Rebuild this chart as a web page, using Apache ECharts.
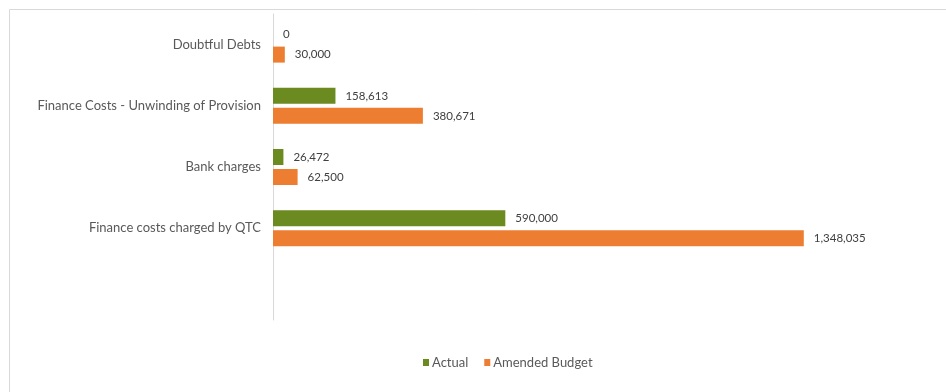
<!DOCTYPE html>
<html>
<head>
<meta charset="utf-8">
<script src="https://cdn.jsdelivr.net/npm/echarts@6/dist/echarts.min.js"></script>
<style>
  html, body { margin: 0; padding: 0; background: #ffffff; }
  #chart { width: 946px; height: 392px; }
</style>
</head>
<body>
<div id="chart"></div>
<script>
// Finance cost lines, top to bottom (last slot left blank)
const categories = [
  'Doubtful Debts',
  'Finance Costs - Unwinding of Provision',
  'Bank charges',
  'Finance costs charged by QTC',
  ''
];
const actual = [0, 158613, 26472, 590000, null];
const amendedBudget = [30000, 380671, 62500, 1348035, null];
const seriesNames = ['Actual', 'Amended Budget'];

const GREEN = '#6b8a1f';
const ORANGE = '#ed7d31';
const FONT = 'Lato, "Open Sans", sans-serif';

const fmt = v => Number(v).toLocaleString('en-US');

const chart = echarts.init(document.getElementById('chart'), null, { renderer: 'canvas' });

const labelStyle = {
  show: true,
  position: 'right',
  distance: 10,
  color: '#404040',
  fontFamily: FONT,
  fontSize: 11.5,
  formatter: p => fmt(p.value)
};

chart.setOption({
  animation: false,
  backgroundColor: '#ffffff',
  graphic: [{
    type: 'rect',
    shape: { x: 9.5, y: 9.5, width: 960, height: 400 },
    style: { fill: 'none', stroke: '#d9d9d9', lineWidth: 1 },
    silent: true,
    z: -1
  }],
  grid: { left: 273, top: 14, width: 630, height: 306 },
  legend: {
    data: seriesNames,
    left: 418,
    top: 351,
    icon: 'rect',
    itemWidth: 6,
    itemHeight: 7,
    itemGap: 16,
    textStyle: { color: '#595959', fontFamily: FONT, fontSize: 13, padding: [0, 0, 0, -2] }
  },
  xAxis: {
    type: 'value',
    min: 0,
    max: 1600000,
    show: false,
    splitLine: { show: false }
  },
  yAxis: {
    type: 'category',
    data: categories,
    inverse: true,
    axisLine: { show: true, lineStyle: { color: '#d9d9d9', width: 1 } },
    axisTick: { show: false },
    axisLabel: { color: '#595959', fontFamily: FONT, fontSize: 13, margin: 12 }
  },
  series: [
    {
      name: seriesNames[0],
      type: 'bar',
      data: actual,
      itemStyle: { color: GREEN },
      barWidth: 16,
      barGap: '25%',
      label: labelStyle
    },
    {
      name: seriesNames[1],
      type: 'bar',
      data: amendedBudget,
      itemStyle: { color: ORANGE },
      barWidth: 16,
      barGap: '25%',
      label: labelStyle
    }
  ]
});
</script>
</body>
</html>
